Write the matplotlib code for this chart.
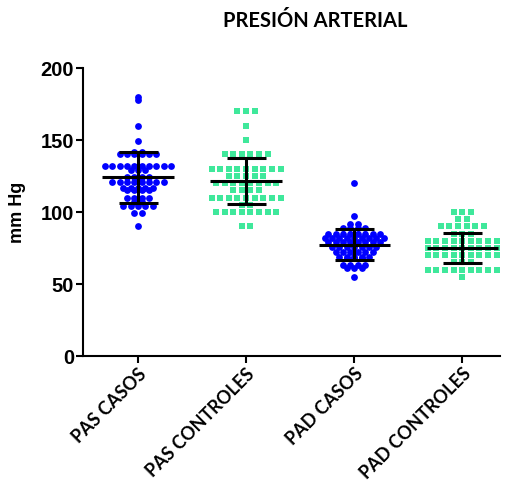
import numpy as np
import matplotlib
matplotlib.use("Agg")
import matplotlib.pyplot as plt

# ── Datos ──────────────────────────────────────────────────────────────
groups = ["PAS CASOS", "PAS CONTROLES", "PAD CASOS", "PAD CONTROLES"]

# (valor, cantidad de puntos en esa fila)
pas_casos = [(180, 1), (178, 1), (160, 1), (149, 1), (142, 2), (140, 6), (132, 10),
             (129, 3), (124, 4), (121, 8), (117, 5), (115, 4), (110, 4), (107, 2),
             (104, 5), (99, 2), (90, 1)]
pas_controles = [(170, 3), (160, 1), (150, 1), (140, 6), (130, 9), (125, 5), (120, 8),
                 (115, 4), (110, 9), (105, 2), (100, 8), (90, 2)]
pad_casos = [(120, 1), (97, 1), (92, 2), (89, 4), (85, 8), (82, 9), (79, 8), (76, 7),
             (72, 6), (69, 5), (68, 3), (63, 4), (61, 3), (55, 1)]
pad_controles = [(100, 3), (95, 2), (90, 6), (85, 3), (80, 9), (75, 9), (70, 9),
                 (65, 3), (60, 9), (55, 1)]

means = [124, 121.5, 77.3, 75]
sds = [17.7, 16.2, 10.7, 10.2]

BLUE = "#0000FF"
GREEN = "#3FE89B"
series = [(pas_casos, BLUE, "o", 24, 0.068),
          (pas_controles, GREEN, "s", 18, 0.08),
          (pad_casos, BLUE, "o", 24, 0.068),
          (pad_controles, GREEN, "s", 18, 0.08)]

# ── Figura ─────────────────────────────────────────────────────────────
fig = plt.figure(figsize=(5.06, 4.84), dpi=100)
ax = fig.add_axes([83 / 506, 1 - 356 / 484, (500 - 83) / 506, (356 - 68) / 484])

for i, (rows, color, marker, size, step) in enumerate(series):
    xs, ys = [], []
    for val, n in rows:
        offs = (np.arange(n) - (n - 1) / 2) * step
        xs.extend(i + offs)
        ys.extend([val] * n)
    ax.scatter(xs, ys, s=size, color=color, marker=marker, linewidths=0, zorder=2)

    # media y desviación estándar
    m, sd = means[i], sds[i]
    ax.plot([i - 0.33, i + 0.33], [m, m], color="black", lw=2.2, zorder=3,
            solid_capstyle="butt")
    ax.plot([i, i], [m - sd, m + sd], color="black", lw=2.2, zorder=3)
    for yy in (m - sd, m + sd):
        ax.plot([i - 0.18, i + 0.18], [yy, yy], color="black", lw=2.2, zorder=3,
                solid_capstyle="butt")

ax.set_xlim(-0.51, 3.35)
ax.set_ylim(0, 200)
ax.set_yticks([0, 50, 100, 150, 200])
ax.set_xticks(range(4))
ax.set_xticklabels(groups, rotation=45, ha="right", va="top", rotation_mode="anchor",
                   fontfamily="Lato", fontweight="bold", fontsize=13)
for lbl in ax.get_yticklabels():
    lbl.set_fontfamily("Liberation Sans")
    lbl.set_fontweight("bold")
    lbl.set_fontsize(14.5)

for s in ("top", "right"):
    ax.spines[s].set_visible(False)
for s in ("left", "bottom"):
    ax.spines[s].set_linewidth(1.5)
ax.tick_params(width=1.5, length=5, pad=1.5)

ax.set_ylabel("mm Hg", fontfamily="Liberation Sans", fontweight="bold", fontsize=13)
ax.yaxis.set_label_coords(-0.137, 0.5)

fig.text(315 / 506, 1 - 21 / 484, "PRESIÓN ARTERIAL", ha="center", va="center",
         fontfamily="Lato", fontweight="bold", fontsize=14.5)

fig.savefig("out.png", dpi=100)
